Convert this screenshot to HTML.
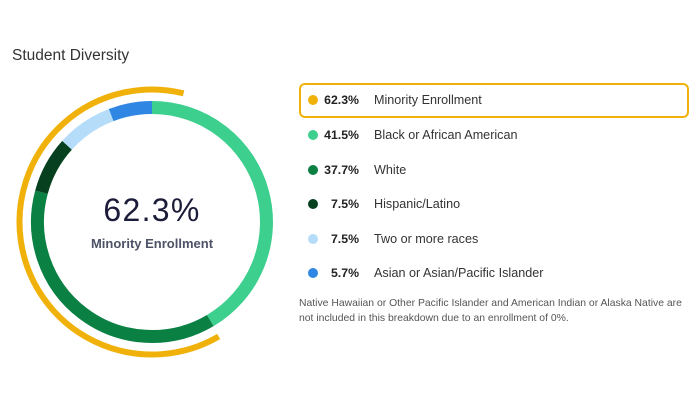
<!DOCTYPE html>
<html>
<head>
<meta charset="utf-8">
<style>
  html,body{margin:0;padding:0;background:#fff;}
  body{width:700px;height:400px;position:relative;overflow:hidden;font-family:"Liberation Sans",Arial,sans-serif;}
  .title{position:absolute;left:12px;top:46px;font-size:15.5px;color:#333;line-height:20px;}
  svg{position:absolute;left:0;top:0;}
  .big{position:absolute;left:52px;width:200px;top:192px;text-align:center;font-size:32px;letter-spacing:1.3px;color:#1b1b3a;line-height:36px;}
  .sub{position:absolute;left:52px;width:200px;top:236px;text-align:center;font-size:13px;font-weight:bold;color:#4d5266;line-height:15px;}
  .box{position:absolute;left:299px;top:83px;width:386px;height:31px;border:2px solid #f0b20a;border-radius:6px;}
  .row{position:absolute;left:0;height:20px;width:700px;}
  .dot{position:absolute;left:308px;top:5px;width:10px;height:10px;border-radius:50%;}
  .pct{position:absolute;left:310px;width:49px;text-align:right;top:2px;font-size:12.3px;font-weight:bold;color:#222;line-height:16px;}
  .lbl{position:absolute;left:374px;top:2px;font-size:12.6px;color:#333;line-height:16px;white-space:nowrap;}
  .note{position:absolute;left:299px;top:296px;font-size:10.4px;color:#555;line-height:15px;white-space:nowrap;}
</style>
</head>
<body>
<div class="title">Student Diversity</div>
<svg width="700" height="400" viewBox="0 0 700 400">
  <g fill="none" stroke-width="13">
    <path d="M152 107.5 A114.5 114.5 0 0 1 210.28 320.55" stroke="#3ccf8e"/>
    <path d="M210.28 320.55 A114.5 114.5 0 0 1 41.46 192.14" stroke="#0a8043"/>
    <path d="M41.46 192.14 A114.5 114.5 0 0 1 67.05 145.23" stroke="#07401f"/>
    <path d="M67.05 145.23 A114.5 114.5 0 0 1 111.19 115.02" stroke="#b5dcf8"/>
    <path d="M111.19 115.02 A114.5 114.5 0 0 1 152 107.5" stroke="#2f87e3"/>
  </g>
  <path d="M218.65 336.52 A132.5 132.5 0 1 1 183.6 93.33" fill="none" stroke="#f0b20a" stroke-width="6"/>
</svg>
<div class="big">62.3%</div>
<div class="sub">Minority Enrollment</div>

<div class="box"></div>
<div class="row" style="top:90px"><div class="dot" style="background:#f0b20a"></div><div class="pct">62.3%</div><div class="lbl">Minority Enrollment</div></div>
<div class="row" style="top:125px"><div class="dot" style="background:#3ccf8e"></div><div class="pct">41.5%</div><div class="lbl">Black or African American</div></div>
<div class="row" style="top:160px"><div class="dot" style="background:#0a8043"></div><div class="pct">37.7%</div><div class="lbl">White</div></div>
<div class="row" style="top:194px"><div class="dot" style="background:#07401f"></div><div class="pct">7.5%</div><div class="lbl">Hispanic/Latino</div></div>
<div class="row" style="top:229px"><div class="dot" style="background:#b5dcf8"></div><div class="pct">7.5%</div><div class="lbl">Two or more races</div></div>
<div class="row" style="top:263px"><div class="dot" style="background:#2f87e3"></div><div class="pct">5.7%</div><div class="lbl">Asian or Asian/Pacific Islander</div></div>

<div class="note">Native Hawaiian or Other Pacific Islander and American Indian or Alaska Native are<br>not included in this breakdown due to an enrollment of 0%.</div>
</body>
</html>
